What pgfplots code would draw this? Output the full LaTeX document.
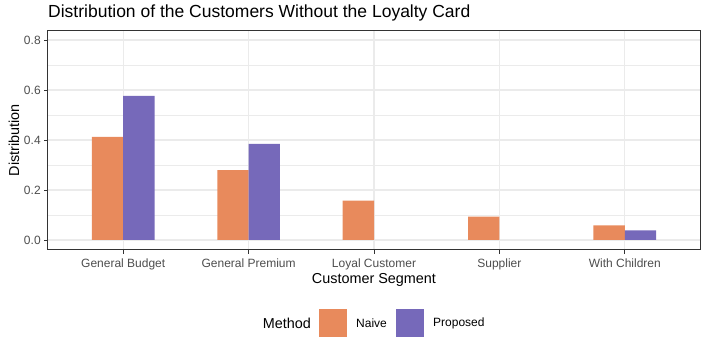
\documentclass[border=0pt]{standalone}
\usepackage{fontspec}
\setmainfont{Liberation Sans}
\usepackage{pgfplots}
\pgfplotsset{compat=1.18}
\definecolor{naive}{HTML}{E88A5C}
\definecolor{proposed}{HTML}{7669BA}
\definecolor{grid92}{HTML}{EBEBEB}
\definecolor{grey20}{HTML}{333333}
\definecolor{grey30}{HTML}{4D4D4D}

\begin{document}
\begin{tikzpicture}
\useasboundingbox (0,0) rectangle (708bp,353bp);
\begin{axis}[
  at={(48bp,103bp)}, anchor=south west,
  scale only axis, width=652bp, height=220bp,
  xmin=-0.6, xmax=4.6, ymin=-0.04, ymax=0.84,
  xtick={0,1,2,3,4},
  xticklabels={General Budget, General Premium, Loyal Customer, Supplier, With Children},
  ytick={0,0.2,0.4,0.6,0.8},
  minor ytick={0.1,0.3,0.5,0.7},
  yticklabel style={/pgf/number format/.cd, fixed, fixed zerofill, precision=1, assume math mode=true},
  ticklabel style={font=\fontsize{12bp}{14bp}\selectfont, text=grey30},
  xticklabel style={yshift=-1bp},
  tick align=outside, tick pos=lower,
  major tick length=3.8bp, minor tick length=0pt,
  every tick/.style={grey20, line width=0.75bp},
  xmajorgrids, ymajorgrids, yminorgrids,
  major grid style={grid92, line width=1.1bp},
  minor grid style={grid92, line width=0.6bp},
  axis line style={grey20, line width=1bp},
  xlabel={Customer Segment}, ylabel={Distribution},
  every axis x label/.style={at={(axis description cs:0.5,-0.136)}, anchor=center,
    font=\fontsize{14.4bp}{17bp}\selectfont},
  every axis y label/.style={at={(axis description cs:-0.0521,0.5)}, anchor=center, rotate=90,
    font=\fontsize{14.4bp}{17bp}\selectfont},
  ybar, bar width=0.25,
]
\addplot[fill=naive, draw=none, bar shift=-0.125] coordinates {
  (0,0.413) (1,0.280) (2,0.157) (3,0.093) (4,0.058)
};
\addplot[fill=proposed, draw=none, bar shift=0.125] coordinates {
  (0,0.577) (1,0.385) (4,0.038)
};
\end{axis}
\node[anchor=west, inner sep=0pt, font=\fontsize{17.5bp}{20bp}\selectfont] at (48bp,340bp) {Distribution of the Customers Without the Loyalty Card};
% legend
\node[anchor=east, inner sep=0pt, font=\fontsize{14.4bp}{17bp}\selectfont] at (311bp,30bp) {Method};
\fill[naive] (319bp,16bp) rectangle (347bp,44bp);
\node[anchor=west, font=\fontsize{12bp}{14bp}\selectfont, inner sep=0pt] at (356bp,30bp) {Naive};
\fill[proposed] (396bp,16bp) rectangle (424bp,44bp);
\node[anchor=west, font=\fontsize{12bp}{14bp}\selectfont, inner sep=0pt] at (433bp,30bp) {Proposed};
\end{tikzpicture}
\end{document}
